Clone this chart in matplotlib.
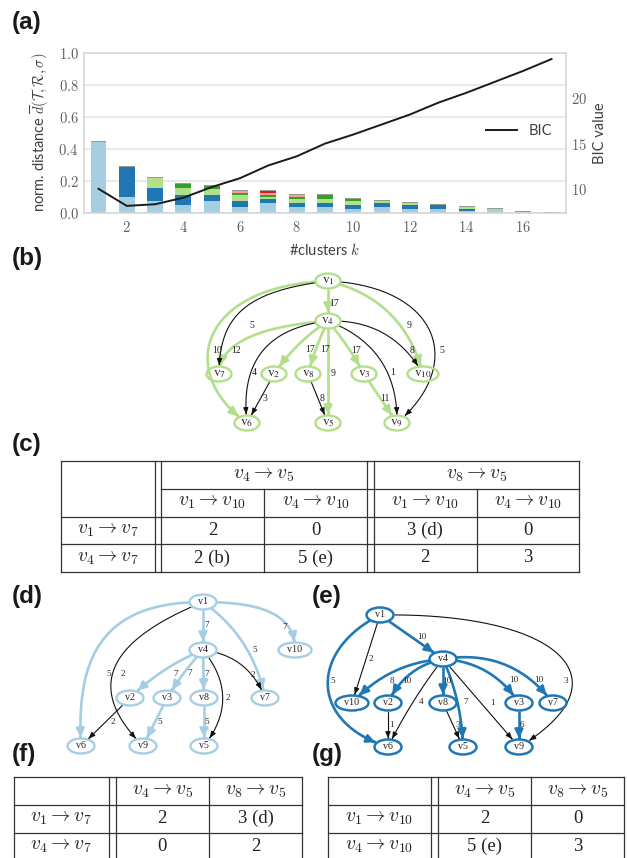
import numpy as np
import matplotlib.pyplot as plt
from matplotlib.patches import Ellipse, FancyArrowPatch
from matplotlib.path import Path
from matplotlib.ticker import FuncFormatter, FixedLocator

plt.rcParams['mathtext.fontset'] = 'cm'
plt.rcParams['font.family'] = ['Lato', 'DejaVu Sans']

# ---------------- (a) stacked distances + BIC ----------------
n_clusters = np.arange(1, 18)
seg_light_blue = [.442, .098, .073, .048, .073, .036, .061, .036, .036, .023, .036, .023, .023, .012, .025, .006, .0]
seg_dark_blue = [0, .188, .081, .063, .038, .037, .025, .025, .025, .025, .025, .025, .026, .012, 0, 0, 0]
seg_light_green = [0, 0, .065, .043, .037, .038, .012, .025, .025, .025, .012, .014, 0, .013, 0, 0, 0]
seg_green = [0, 0, 0, .027, .021, .012, .012, .010, .027, .013, 0, 0, 0, 0, 0, 0, 0]
seg_pink = [0, 0, 0, 0, 0, .013, .011, .017, 0, 0, 0, 0, 0, 0, 0, 0, 0]
seg_red = [0, 0, 0, 0, 0, 0, .014, 0, 0, 0, 0, 0, 0, 0, 0, 0, 0]
seg_rest = [.004] * 16 + [.003]
bic = [10.03, 8.15, 8.33, 9.05, 10.22, 11.2, 12.6, 13.6, 15.0, 16.0, 17.1, 18.2, 19.5, 20.6, 21.8, 23.0, 24.3]

segments = [seg_light_blue, seg_dark_blue, seg_light_green, seg_green, seg_pink, seg_red, seg_rest]
seg_colors = ['#a6cee3', '#1f78b4', '#b2df8a', '#33a02c', '#fb9a99', '#e31a1c', '#9a9a86']

# ---------------- graphs (b), (d), (e) ----------------
pos_b = {'v1': (328, 281), 'v4': (328, 321), 'v7': (219, 374), 'v2': (274, 374), 'v8': (308, 374),
         'v3': (364, 374), 'v10': (423, 374), 'v6': (247, 423), 'v5': (328, 423), 'v9': (397, 423)}
# (source, target, weight, on tree, bend or bezier handles, label offset)
edges_b = [
    ('v1', 'v4', 17, True, 0, (6, 2)),
    ('v1', 'v7', 5, False, ((-80, 10), (0, -60)), (8, 17)),
    ('v1', 'v6', 10, True, ((-130, 5), (-70, -50)), (5, 15)),
    ('v1', 'v10', 9, True, -0.3, (20, 12)),
    ('v1', 'v9', 5, False, ((110, 5), (70, -60)), (12, 19)),
    ('v4', 'v7', 12, True, ((-70, 5), (0, -30)), (-11, 12)),
    ('v4', 'v6', 4, False, 0.5, (-8, 21)),
    ('v4', 'v2', 17, True, 0.1, (12, 5)),
    ('v4', 'v8', 17, True, 0.05, (8, 3)),
    ('v4', 'v5', 9, True, 0, (5, 1)),
    ('v4', 'v3', 17, True, -0.05, (9, 4)),
    ('v4', 'v10', 8, False, -0.3, (29, 17)),
    ('v4', 'v9', 1, False, -0.35, (12, 13)),
    ('v2', 'v6', 3, False, 0, (4, 0)),
    ('v8', 'v5', 8, False, 0, (4, 0)),
    ('v3', 'v9', 11, True, 0, (4, 0)),
]

pos_d = {'v1': (203, 602), 'v4': (203, 650), 'v10': (295, 650), 'v2': (130, 698), 'v3': (167, 698),
         'v8': (204, 698), 'v7': (265, 698), 'v6': (81, 746), 'v9': (143, 746), 'v5': (204, 746)}
edges_d = [
    ('v1', 'v4', 7, True, 0, (4, -1)),
    ('v1', 'v6', 5, True, ((-100, 0), (-5, -90)), (6, 34)),
    ('v1', 'v9', 2, False, ((-110, 45), (-50, -50)), (10, 2)),
    ('v1', 'v10', 7, True, ((60, 0), (0, -35)), (13, 14)),
    ('v1', 'v7', 5, True, -0.2, (11, 6)),
    ('v4', 'v2', 7, True, 0.1, (12, 4)),
    ('v4', 'v3', 7, True, 0.05, (6, 0)),
    ('v4', 'v8', 7, True, 0, (3, 0)),
    ('v4', 'v7', 2, False, -0.3, (12, 10)),
    ('v4', 'v5', 2, False, -0.4, (5, 0)),
    ('v2', 'v6', 2, False, 0, (7, 0)),
    ('v3', 'v9', 5, True, 0, (5, 0)),
    ('v8', 'v5', 5, True, 0, (3, 0)),
]

pos_e = {'v1': (380, 615), 'v4': (443, 659), 'v10': (352, 703), 'v2': (388, 703), 'v8': (443, 703),
         'v3': (519, 703), 'v7': (553, 703), 'v6': (388, 747), 'v5': (463, 747), 'v9': (519, 747)}
edges_e = [
    ('v1', 'v4', 10, True, 0, (10, 0)),
    ('v1', 'v10', 2, False, 0, (5, 0)),
    ('v1', 'v6', 5, True, ((-70, 35), (-80, -25)), (5, -4)),
    ('v1', 'v9', 3, False, ((180, -3), (111, -67)), (7, 26)),
    ('v4', 'v10', 8, True, 0.2, (-1, 9)),
    ('v4', 'v2', 10, True, 0.25, (-3, 7)),
    ('v4', 'v6', 4, False, 0.05, (8, 0)),
    ('v4', 'v8', 10, True, 0, (4, 0)),
    ('v4', 'v5', 7, True, -0.1, (8, 0)),
    ('v4', 'v9', 1, False, 0, (12, 0)),
    ('v4', 'v3', 10, True, -0.25, (27, 9)),
    ('v4', 'v7', 10, True, -0.3, (34, 16)),
    ('v2', 'v6', 1, False, 0, (4, 0)),
    ('v8', 'v5', 3, False, 0, (5, 0)),
    ('v3', 'v9', 6, True, 0, (3, 0)),
]

# ---------------- tables (c), (f), (g) ----------------
c_groups = [r'$v_4 \rightarrow v_5$', r'$v_8 \rightarrow v_5$']
c_cols = [r'$v_1 \rightarrow v_{10}$', r'$v_4 \rightarrow v_{10}$']
c_rows = [r'$v_1 \rightarrow v_7$', r'$v_4 \rightarrow v_7$']
c_vals = [['2', '0', '3 (d)', '0'], ['2 (b)', '5 (e)', '2', '3']]
f_cols = [r'$v_4 \rightarrow v_5$', r'$v_8 \rightarrow v_5$']
f_rows = [r'$v_1 \rightarrow v_7$', r'$v_4 \rightarrow v_7$']
f_vals = [['2', '3 (d)'], ['0', '2']]
g_cols = [r'$v_4 \rightarrow v_5$', r'$v_8 \rightarrow v_5$']
g_rows = [r'$v_1 \rightarrow v_{10}$', r'$v_4 \rightarrow v_{10}$']
g_vals = [['2', '0'], ['5 (e)', '3']]

W, H = 627, 858
fig = plt.figure(figsize=(W / 100, H / 100), dpi=100)
fig.patch.set_facecolor('white')

# ---- bar chart ----
ax = fig.add_axes([84.3 / W, 1 - 212.7 / H, 481.4 / W, 160 / H])
bottom = np.zeros(len(n_clusters))
for vals, col in zip(segments, seg_colors):
    ax.bar(n_clusters, vals, width=0.56, bottom=bottom, color=col, linewidth=0, zorder=2)
    bottom += np.array(vals)
ax.set_xlim(0.5, 17.5)
ax.set_ylim(0, 1.0)
ax.set_axisbelow(True)
ax.yaxis.grid(True, color='#e3e3e3', lw=1.1)
ax.xaxis.set_major_locator(FixedLocator(range(2, 17, 2)))
ax.yaxis.set_major_locator(FixedLocator(np.arange(0, 1.01, 0.2)))
ax.xaxis.set_major_formatter(FuncFormatter(lambda v, p: f'${int(v)}$'))
ax.yaxis.set_major_formatter(FuncFormatter(lambda v, p: f'${v:.1f}$'))
ax.tick_params(length=0, labelsize=10.5, labelcolor='#606060')
ax.tick_params(axis='x', pad=5)
ax.tick_params(axis='y', pad=4)
for s in ax.spines.values():
    s.set_color('#d4d4d4')
    s.set_linewidth(1.1)
ax.set_ylabel(r'norm. distance $\overline{d}(\mathcal{T},\mathcal{R},\sigma)$', fontsize=10.5, color='#404040')
ax.yaxis.set_label_coords(-0.069, 0.5)
ax.set_xlabel(r'#clusters $k$', fontsize=10.5, color='#404040')
ax.xaxis.set_label_coords(0.5, -0.181)

ax2 = ax.twinx()
ax2.plot(n_clusters, bic, color='#1a1a1a', lw=1.4, label='BIC')
ax2.set_ylim(7.4, 25.0)
ax2.yaxis.set_major_locator(FixedLocator([10, 15, 20]))
ax2.yaxis.set_major_formatter(FuncFormatter(lambda v, p: f'${int(v)}$'))
ax2.tick_params(length=0, labelsize=10.5, labelcolor='#606060', pad=4)
for s in ax2.spines.values():
    s.set_visible(False)
ax2.set_ylabel('BIC value', fontsize=10.5, color='#404040')
ax2.yaxis.set_label_coords(1.057, 0.5)
leg = ax2.legend(loc='center right', bbox_to_anchor=(0.972, 0.51), frameon=False,
                 borderpad=0, borderaxespad=0, fontsize=10.5, handlelength=2.1)
for t in leg.get_texts():
    t.set_color('#404040')

# ---- canvas for graphs and tables (pixel coordinates) ----
cv = fig.add_axes([0, 0, 1, 1])
cv.set_xlim(0, W)
cv.set_ylim(H, 0)
cv.axis('off')

for lab, x, y in [('(a)', 12, 22), ('(b)', 12, 258), ('(c)', 12, 445), ('(d)', 12, 597),
                  ('(e)', 312, 597), ('(f)', 12, 755), ('(g)', 312, 755)]:
    cv.text(x, y, lab, fontsize=17.5, fontweight='bold', family='Liberation Sans',
            ha='left', va='center', color='#1a1a1a')


def bezier_handles(p0, p3, shape):
    if isinstance(shape, tuple):
        return p0 + np.array(shape[0], float), p3 + np.array(shape[1], float)
    dx, dy = p3 - p0
    ctrl = (p0 + p3) / 2 + shape * np.array([-dy, dx])
    return p0 + 2 / 3 * (ctrl - p0), p3 + 2 / 3 * (ctrl - p3)


def draw_graph(pos, edges, color, node_w, node_h, node_fs, edge_fs, sub=False, node_lw=1.6):
    sizes = {n: (node_w + (6 if len(n) > 2 else 0), node_h) for n in pos}
    for n, (x, y) in pos.items():
        w, h = sizes[n]
        cv.add_patch(Ellipse((x, y), w, h, fill=False, ec=color, lw=node_lw, zorder=3))
        label = r'$\mathrm{v}_{%s}$' % n[1:] if sub else n
        cv.text(x, y + (0 if sub else -0.5), label, ha='center', va='center', fontsize=node_fs,
                family='Liberation Serif', math_fontfamily='stix', zorder=4, color='#222222')
    t = np.linspace(0, 1, 500)[:, None]
    for src, dst, wgt, tree, shape, off in edges:
        p0 = np.array(pos[src], float)
        p3 = np.array(pos[dst], float)
        c1, c2 = bezier_handles(p0, p3, shape)
        pts = (1 - t) ** 3 * p0 + 3 * (1 - t) ** 2 * t * c1 + 3 * (1 - t) * t ** 2 * c2 + t ** 3 * p3

        def inside(n):
            (cx, cy), (ew, eh) = pos[n], sizes[n]
            return ((pts[:, 0] - cx) / (ew / 2 + 1)) ** 2 + ((pts[:, 1] - cy) / (eh / 2 + 1)) ** 2 < 1

        idx = np.flatnonzero(~inside(src) & ~inside(dst))
        seg = pts[idx[0]:idx[-1] + 1]
        if tree:
            style, lw, ec = '-|>,head_length=0.5,head_width=0.24', 1.9, color
        else:
            style, lw, ec = '-|>,head_length=0.38,head_width=0.15', 0.8, '#111111'
        cv.add_patch(FancyArrowPatch(path=Path(seg), arrowstyle=style, mutation_scale=10,
                                     color=ec, lw=lw, zorder=2 if tree else 2.5))
        mid = (p0 + 3 * c1 + 3 * c2 + p3) / 8
        cv.text(mid[0] + off[0], mid[1] + off[1], str(wgt), fontsize=edge_fs, family='Liberation Serif',
                ha='center', va='center', color='#222222', zorder=5)


draw_graph(pos_b, edges_b, '#b2df8a', 25, 15, 9.5, 7, sub=True, node_lw=1.7)
draw_graph(pos_d, edges_d, '#a6cee3', 27, 15, 7.2, 6.6, node_lw=1.7)
draw_graph(pos_e, edges_e, '#1f78b4', 27, 15, 7.2, 6.6, node_lw=1.8)

LINE = '#333333'


def hl(x0, x1, y):
    cv.plot([x0, x1], [y, y], color=LINE, lw=0.9, solid_capstyle='projecting')


def vl(x, y0, y1):
    cv.plot([x, x], [y0, y1], color=LINE, lw=0.9, solid_capstyle='projecting')


def cell(x, y, s):
    if s.startswith('$'):
        cv.text(x, y, s, fontsize=14, ha='center', va='center', color='#222222')
    else:
        cv.text(x, y, s, fontsize=13.5, family='Liberation Serif', ha='center', va='center', color='#222222')


# table (c)
L, D1a, D1b, M1, D2a, D2b, M2, R = 60.7, 154.5, 160.5, 264.3, 367, 373.5, 476.8, 578.8
T, H1, H2, R1, B = 461, 489, 516.5, 544, 572
for y in (T, H2, R1, B):
    hl(L, R, y)
hl(D1b, R, H1)
for x in (L, D1a, D1b, D2a, D2b, R):
    vl(x, T, B)
for x in (M1, M2):
    vl(x, H1, B)
cell((D1b + D2a) / 2, (T + H1) / 2, c_groups[0])
cell((D2b + R) / 2, (T + H1) / 2, c_groups[1])
for (a, b), lab in zip([(D1b, M1), (M1, D2a), (D2b, M2), (M2, R)], c_cols * 2):
    cell((a + b) / 2, (H1 + H2) / 2, lab)
for (ya, yb), rl, vals in zip([(H2, R1), (R1, B)], c_rows, c_vals):
    cell((L + D1a) / 2, (ya + yb) / 2, rl)
    for (a, b), v in zip([(D1b, M1), (M1, D2a), (D2b, M2), (M2, R)], vals):
        cell((a + b) / 2, (ya + yb) / 2, v)


def small_table(L, Da, Db, M, R, cols, rows, vals):
    T, H1, R1, B = 777.3, 805, 832.5, 860
    for y in (T, H1, R1, B):
        hl(L, R, y)
    for x in (L, Da, Db, M, R):
        vl(x, T, B)
    for (a, b), lab in zip([(Db, M), (M, R)], cols):
        cell((a + b) / 2, (T + H1) / 2, lab)
    for (ya, yb), rl, vv in zip([(H1, R1), (R1, B)], rows, vals):
        cell((L + Da) / 2, (ya + yb) / 2, rl)
        for (a, b), v in zip([(Db, M), (M, R)], vv):
            cell((a + b) / 2, (ya + yb) / 2, v)


small_table(14, 108.5, 115.5, 209, 302, f_cols, f_rows, f_vals)
small_table(328, 431, 438, 531, 624, g_cols, g_rows, g_vals)

fig.savefig('out.png', dpi=100)
